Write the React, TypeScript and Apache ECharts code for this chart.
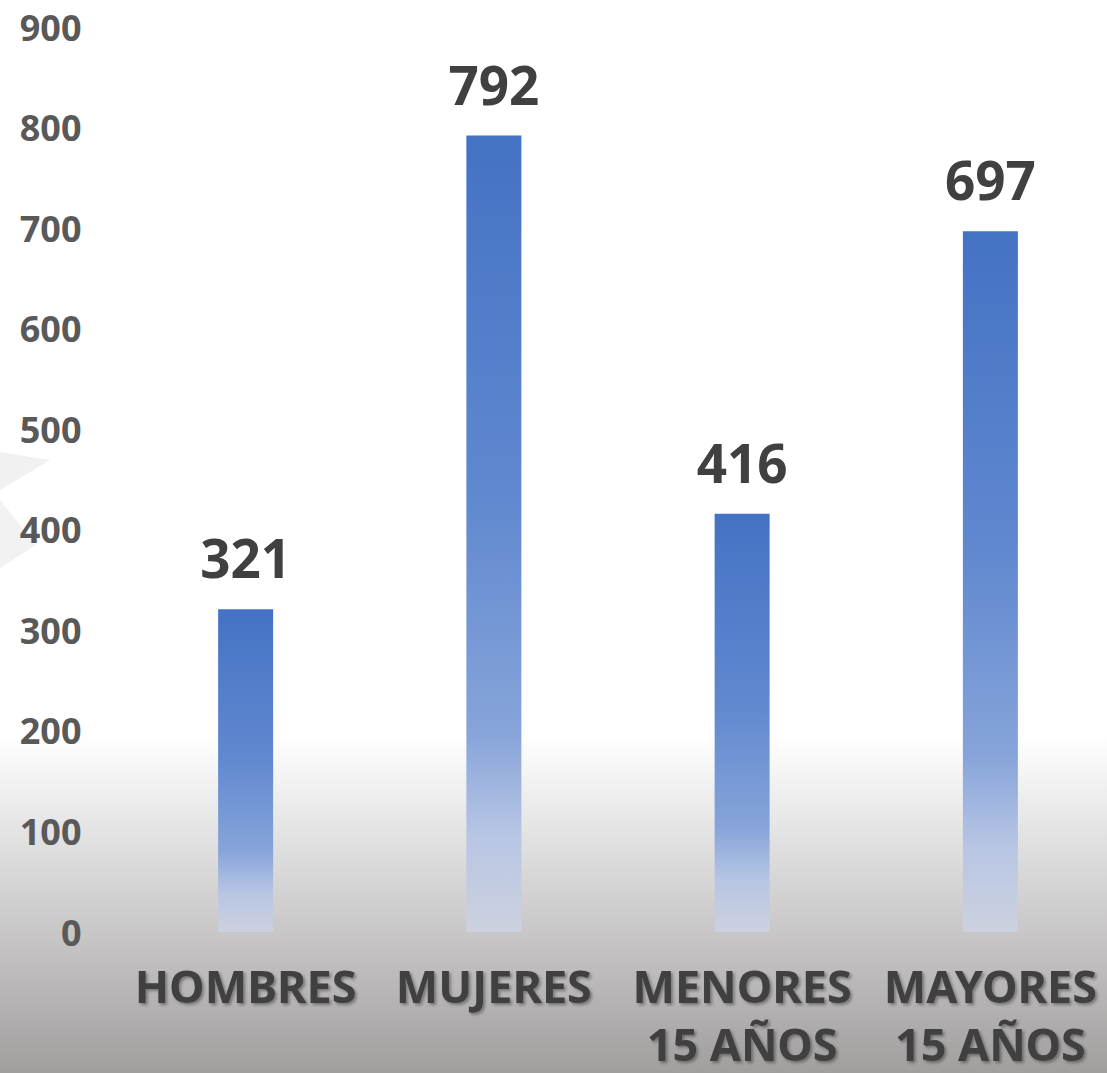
import React, { useEffect, useRef } from "react";
import * as echarts from "echarts";

const categories = ["HOMBRES", "MUJERES", "MENORES\n15 AÑOS", "MAYORES\n15 AÑOS"];
const values = [321, 792, 416, 697];
const yTicks = [0, 100, 200, 300, 400, 500, 600, 700, 800, 900];

export default function App() {
  const ref = useRef<HTMLDivElement>(null);
  useEffect(() => {
    document.body.style.margin = "0";
    const chart = echarts.init(ref.current!, null, { renderer: "svg" });
    const font = "'Noto Sans', 'Open Sans', sans-serif";
    chart.setOption({
      animation: false,
      backgroundColor: new echarts.graphic.LinearGradient(0, 0, 0, 1, [
        { offset: 0, color: "#ffffff" },
        { offset: 0.685, color: "#ffffff" },
        { offset: 1, color: "#a19e9e" },
      ]),
      graphic: [
        {
          type: "polygon",
          silent: true,
          z: -1,
          shape: { points: [[0, 452], [50, 460], [0, 490]] },
          style: { fill: "#f1f1f1" },
        },
        {
          type: "polygon",
          silent: true,
          z: -1,
          shape: { points: [[0, 500], [36, 545], [0, 568]] },
          style: { fill: "#f2f2f2" },
        },
      ],
      grid: {
        left: 121.5,
        width: 993,
        top: 27,
        bottom: 1073 - 932,
        containLabel: false,
        outerBoundsMode: "none",
      },
      xAxis: {
        type: "category",
        data: categories,
        axisLine: { show: false },
        axisTick: { show: false },
        axisLabel: {
          interval: 0,
          margin: 24,
          fontFamily: font,
          fontWeight: "bold",
          fontSize: 45,
          lineHeight: 58,
          color: "#404040",
          textShadowColor: "rgba(0,0,0,0.35)",
          textShadowBlur: 3,
          textShadowOffsetX: 2,
          textShadowOffsetY: 2,
        },
      },
      yAxis: {
        type: "value",
        min: yTicks[0],
        max: yTicks[yTicks.length - 1],
        interval: 100,
        splitLine: { show: false },
        axisLine: { show: false },
        axisTick: { show: false },
        axisLabel: {
          margin: 40,
          fontFamily: font,
          fontWeight: "bold",
          fontSize: 36,
          color: "#595959",
        },
      },
      series: [
        {
          type: "bar",
          data: values,
          barWidth: 55,
          itemStyle: {
            color: new echarts.graphic.LinearGradient(0, 0, 0, 1, [
              { offset: 0, color: "#4472c4" },
              { offset: 0.45, color: "#5f88cf" },
              { offset: 0.75, color: "#87a4da" },
              { offset: 0.88, color: "#b8c6e4" },
              { offset: 1, color: "#ccd1de" },
            ]),
          },
          label: {
            show: true,
            position: "top",
            distance: 25,
            fontFamily: font,
            fontWeight: "bold",
            fontSize: 53,
            color: "#404040",
          },
        },
      ],
    });
    return () => chart.dispose();
  }, []);
  return <div ref={ref} style={{ width: 1107, height: 1073 }} />;
}
